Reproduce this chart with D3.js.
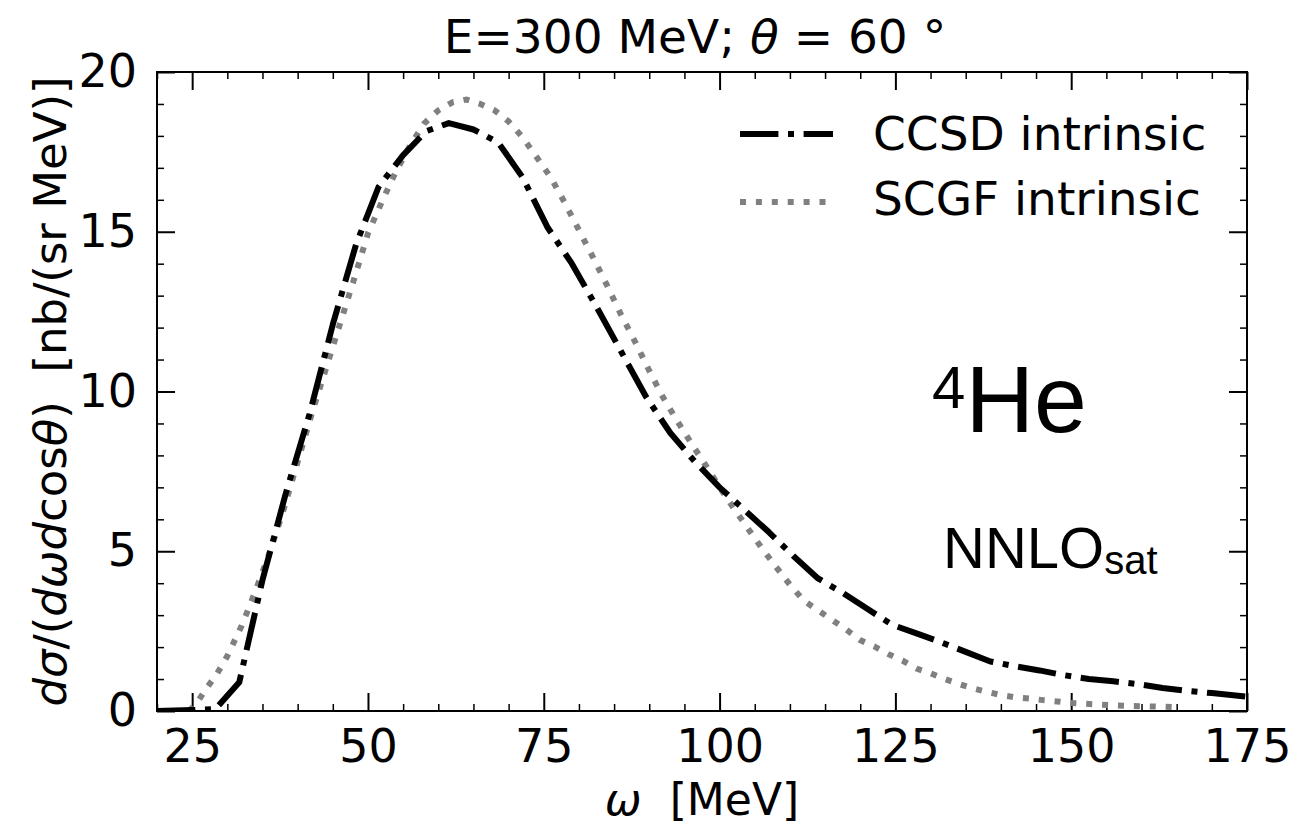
<!DOCTYPE html>
<html>
<head>
<meta charset="utf-8">
<script src="https://cdn.jsdelivr.net/npm/d3@7"></script>
<style>
  body { margin: 0; background: #fff; }
  svg { display: block; }
  text { font-family: "DejaVu Sans", sans-serif; white-space: pre; }
</style>
</head>
<body>
<svg width="1293" height="828"></svg>
<script>
// CCSD intrinsic (dash-dot, black)
var ccsdOmega = [20, 25, 28.3, 31.7, 35, 38.3, 41.7, 45, 48.3, 51.5, 55, 58.3, 61.5, 65, 68.5,
                 72, 75.5, 79, 82.5, 86, 89.5, 93, 96.5, 100, 103.5, 107, 110.5, 114, 117.5,
                 121, 124.5, 128, 131.5, 135, 138.5, 142, 145.5, 149, 152.5, 156, 159.5, 163,
                 166.5, 170, 175];
var ccsdValue = [0, 0.03, 0.06, 0.9, 4.1, 6.8, 9.3, 12.1, 14.6, 16.4, 17.4, 18.15, 18.4, 18.2, 17.8,
                 16.7, 15.15, 14.0, 12.65, 11.25, 9.85, 8.7, 7.8, 7.0, 6.3, 5.6, 4.85, 4.15, 3.7,
                 3.2, 2.7, 2.43, 2.15, 1.85, 1.55, 1.4, 1.27, 1.12, 1.0, 0.93, 0.84, 0.72,
                 0.63, 0.56, 0.45];

// SCGF intrinsic (dotted, grey)
var scgfOmega = [20, 24.5, 25.5, 27, 28.5, 30, 32, 34, 36, 38, 40, 42, 44, 46, 48, 50, 52, 54, 56,
                 58, 60, 62, 64, 66, 68, 70, 72, 74, 76, 78, 80, 82, 84, 86, 88, 90, 92, 94, 96,
                 98, 100, 102, 104, 106, 108, 110, 112, 114, 116, 118, 120, 122, 124, 126, 128,
                 130, 132, 134, 136, 138, 140, 142, 144, 146, 148, 150, 154, 158, 162, 165];
var scgfValue = [0, 0, 0.2, 0.7, 1.15, 1.72, 2.65, 3.75, 4.95, 6.3, 7.8, 9.3, 10.7, 12.1, 13.5,
                 14.95, 15.95, 16.9, 17.7, 18.39, 18.8, 19.05, 19.14, 19.0, 18.8, 18.45, 17.95,
                 17.33, 16.7, 15.9, 15.05, 14.2, 13.32, 12.4, 11.55, 10.65, 9.8, 9.07, 8.37,
                 7.7, 7.0, 6.35, 5.72, 5.1, 4.52, 3.95, 3.45, 3.15, 2.85, 2.55, 2.22, 2.02,
                 1.78, 1.58, 1.33, 1.18, 1.0, 0.85, 0.71, 0.6, 0.5, 0.43, 0.39, 0.34, 0.3,
                 0.25, 0.2, 0.16, 0.14, 0.12];

var xMajor = [25, 50, 75, 100, 125, 150, 175];
var yMajor = [0, 5, 10, 15, 20];

var svg = d3.select("svg");

var x = d3.scaleLinear().domain([20, 175]).range([157, 1247]);
var y = d3.scaleLinear().domain([0, 20]).range([711, 72]);

var xMinor = d3.range(20, 176, 5).filter(function(v) { return xMajor.indexOf(v) < 0; });
var yMinor = d3.range(0, 21, 1).filter(function(v) { return yMajor.indexOf(v) < 0; });

var fontSize = 46;

// clip for the curves
svg.append("clipPath").attr("id", "plotclip")
  .append("rect")
    .attr("x", x(20)).attr("y", y(20))
    .attr("width", x(175) - x(20)).attr("height", y(0) - y(20));

function styleAxis(g, showLabels) {
  g.select(".domain").remove();
  g.selectAll(".tick line").attr("stroke", "#000");
  g.selectAll("text")
    .attr("font-size", fontSize)
    .attr("font-family", "DejaVu Sans, sans-serif")
    .attr("fill", "#000");
  if (!showLabels) g.selectAll("text").remove();
}

// bottom axis
svg.append("g").attr("transform", "translate(0," + y(0) + ")")
  .call(d3.axisBottom(x).tickValues(xMajor).tickSize(-18).tickPadding(18).tickFormat(d3.format("d")))
  .call(styleAxis, true)
  .call(function(g) { g.selectAll(".tick line").attr("stroke-width", 2); });
svg.append("g").attr("transform", "translate(0," + y(0) + ")")
  .call(d3.axisBottom(x).tickValues(xMinor).tickSize(-7).tickFormat(""))
  .call(styleAxis, false)
  .call(function(g) { g.selectAll(".tick line").attr("stroke-width", 1.5); });

// top axis
svg.append("g").attr("transform", "translate(0," + y(20) + ")")
  .call(d3.axisTop(x).tickValues(xMajor).tickSize(-18))
  .call(styleAxis, false)
  .call(function(g) { g.selectAll(".tick line").attr("stroke-width", 2); });
svg.append("g").attr("transform", "translate(0," + y(20) + ")")
  .call(d3.axisTop(x).tickValues(xMinor).tickSize(-7))
  .call(styleAxis, false)
  .call(function(g) { g.selectAll(".tick line").attr("stroke-width", 1.5); });

// left axis
svg.append("g").attr("transform", "translate(" + x(20) + ",0)")
  .call(d3.axisLeft(y).tickValues(yMajor).tickSize(-18).tickPadding(20).tickFormat(d3.format("d")))
  .call(styleAxis, true)
  .call(function(g) { g.selectAll(".tick line").attr("stroke-width", 2); });
svg.append("g").attr("transform", "translate(" + x(20) + ",0)")
  .call(d3.axisLeft(y).tickValues(yMinor).tickSize(-7))
  .call(styleAxis, false)
  .call(function(g) { g.selectAll(".tick line").attr("stroke-width", 1.5); });

// right axis
svg.append("g").attr("transform", "translate(" + x(175) + ",0)")
  .call(d3.axisRight(y).tickValues(yMajor).tickSize(-18))
  .call(styleAxis, false)
  .call(function(g) { g.selectAll(".tick line").attr("stroke-width", 2); });
svg.append("g").attr("transform", "translate(" + x(175) + ",0)")
  .call(d3.axisRight(y).tickValues(yMinor).tickSize(-7))
  .call(styleAxis, false)
  .call(function(g) { g.selectAll(".tick line").attr("stroke-width", 1.5); });

// curves
var line = d3.line()
  .x(function(d) { return x(d[0]); })
  .y(function(d) { return y(d[1]); });

var ccsd = d3.zip(ccsdOmega, ccsdValue);
var scgf = d3.zip(scgfOmega, scgfValue);

var curves = svg.append("g").attr("clip-path", "url(#plotclip)");

curves.append("path")
  .datum(scgf)
  .attr("d", line)
  .attr("fill", "none")
  .attr("stroke", "#808080")
  .attr("stroke-width", 6)
  .attr("stroke-dasharray", "6,9.9");

curves.append("path")
  .datum(ccsd)
  .attr("d", line)
  .attr("fill", "none")
  .attr("stroke", "#000")
  .attr("stroke-width", 6)
  .attr("stroke-linejoin", "round")
  .attr("stroke-dasharray", "38.4,9.6,6,9.6");

// frame
svg.append("rect")
  .attr("x", x(20)).attr("y", y(20))
  .attr("width", x(175) - x(20)).attr("height", y(0) - y(20))
  .attr("fill", "none").attr("stroke", "#000").attr("stroke-width", 2);

// legend
var legend = svg.append("g");
legend.append("line")
  .attr("x1", 740).attr("x2", 833).attr("y1", 134).attr("y2", 134)
  .attr("stroke", "#000").attr("stroke-width", 6)
  .attr("stroke-dasharray", "38.4,9.6,6,9.6");
legend.append("text")
  .attr("x", 873).attr("y", 150)
  .attr("font-size", 47)
  .text("CCSD intrinsic");
legend.append("line")
  .attr("x1", 740).attr("x2", 833).attr("y1", 202).attr("y2", 202)
  .attr("stroke", "#808080").attr("stroke-width", 6)
  .attr("stroke-dasharray", "6,9.9");
legend.append("text")
  .attr("x", 873).attr("y", 215)
  .attr("font-size", 47)
  .text("SCGF intrinsic");

// title
var title = svg.append("text")
  .attr("x", 695).attr("y", 53)
  .attr("text-anchor", "middle")
  .attr("font-size", 47);
title.append("tspan").text("E=300 MeV; ");
title.append("tspan").attr("font-style", "italic").text("θ");
title.append("tspan").text(" = 60 °");

// x label
var xl = svg.append("text")
  .attr("x", (x(20) + x(175)) / 2).attr("y", 815)
  .attr("text-anchor", "middle")
  .attr("font-size", 44);
xl.append("tspan").attr("font-style", "italic").text("ω");
xl.append("tspan").text("  [MeV]");

// y label
var yl = svg.append("text")
  .attr("transform", "translate(66," + ((y(0) + y(20)) / 2) + ") rotate(-90)")
  .attr("text-anchor", "middle")
  .attr("font-size", 45);
yl.append("tspan").attr("font-style", "italic").text("dσ");
yl.append("tspan").text("/(");
yl.append("tspan").attr("font-style", "italic").text("dωd");
yl.append("tspan").text("cos");
yl.append("tspan").attr("font-style", "italic").text("θ");
yl.append("tspan").text(")  [nb/(sr MeV)]");

// annotations
var he = svg.append("text")
  .attr("x", 932).attr("y", 432)
  .style("font-family", "'Liberation Sans', Arial, sans-serif")
  .attr("font-size", 95);
he.append("tspan").attr("font-size", 60).attr("dy", -24).text("4");
he.append("tspan").attr("dy", 24).text("He");

var nn = svg.append("text")
  .attr("x", 943).attr("y", 568)
  .style("font-family", "'Liberation Sans', Arial, sans-serif")
  .attr("font-size", 58);
nn.append("tspan").text("NNLO");
nn.append("tspan").attr("font-size", 40).attr("dy", 6).text("sat");
</script>
</body>
</html>
